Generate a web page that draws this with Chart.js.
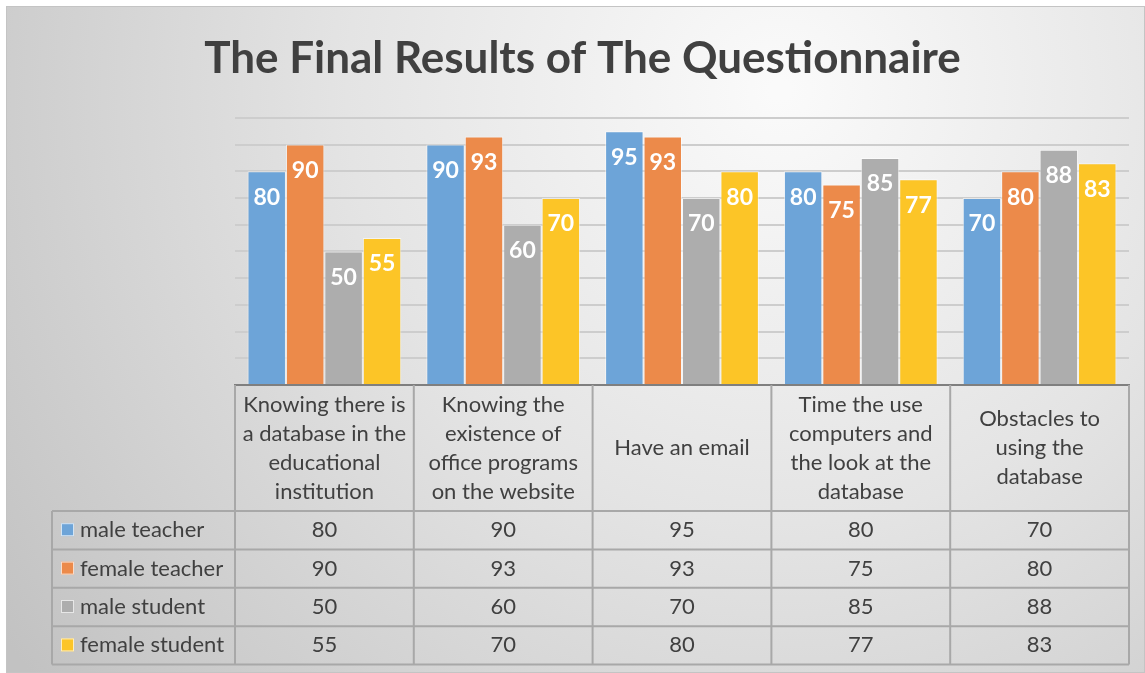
<!DOCTYPE html>
<html>
<head>
<meta charset="utf-8">
<title>The Final Results of The Questionnaire</title>
<script src="https://cdn.jsdelivr.net/npm/chart.js@4.4.1/dist/chart.umd.min.js"></script>
<style>
  html, body { margin: 0; padding: 0; background: #fff; }
</style>
</head>
<body>
<canvas id="myChart" width="1145" height="673"></canvas>
<script>
// categories (multi-line, as in the data table header)
var categories = [
    ['Knowing there is', 'a database in the', 'educational', 'institution'],
    ['Knowing the', 'existence of', 'office programs', 'on the website'],
    ['Have an email'],
    ['Time the use', 'computers and', 'the look at the', 'database'],
    ['Obstacles to', 'using the', 'database']
];
var seriesNames = ['male teacher', 'female teacher', 'male student', 'female student'];
var maleTeacher = [80, 90, 95, 80, 70];
var femaleTeacher = [90, 93, 93, 75, 80];
var maleStudent = [50, 60, 70, 85, 88];
var femaleStudent = [55, 70, 80, 77, 83];
var yTicks = [0, 10, 20, 30, 40, 50, 60, 70, 80, 90, 100];

var colors = ['#6DA4D8', '#EC8A4A', '#ADADAD', '#FCC527'];
var textColor = '#404040';
var fontFamily = 'Lato, "Open Sans", sans-serif';

// gray gradient frame behind everything
var backgroundPlugin = {
    id: 'background',
    beforeDraw: function (chart) {
        var ctx = chart.ctx;
        var w = chart.width, h = chart.height;
        ctx.save();
        ctx.fillStyle = '#ffffff';
        ctx.fillRect(0, 0, w, h);
        var g = ctx.createRadialGradient(780, 90, 10, 780, 90, 950);
        g.addColorStop(0, '#fafafa');
        g.addColorStop(0.45, '#e4e4e4');
        g.addColorStop(1, '#c2c2c2');
        ctx.fillStyle = g;
        ctx.fillRect(6, 6, w - 6, h - 6);
        ctx.strokeStyle = '#c4c4c4';
        ctx.lineWidth = 1;
        ctx.strokeRect(6.5, 6.5, w - 7, h - 7);
        ctx.restore();
    }
};

// white numbers inside the top of each bar
var barLabelsPlugin = {
    id: 'barLabels',
    afterDatasetsDraw: function (chart) {
        var ctx = chart.ctx;
        ctx.save();
        ctx.fillStyle = '#ffffff';
        ctx.font = 'bold 23px ' + fontFamily;
        ctx.textAlign = 'center';
        ctx.textBaseline = 'middle';
        chart.data.datasets.forEach(function (ds, i) {
            var meta = chart.getDatasetMeta(i);
            meta.data.forEach(function (bar, j) {
                ctx.fillText(ds.data[j], bar.x, bar.y + 26);
            });
        });
        ctx.restore();
    }
};

// Excel style data table under the axis
var dataTablePlugin = {
    id: 'dataTable',
    afterDraw: function (chart) {
        var ctx = chart.ctx;
        var area = chart.chartArea;
        var n = chart.data.labels.length;
        var colW = (area.right - area.left) / n;
        var headTop = area.bottom;
        var headBottom = area.bottom + 126;
        var rowH = 38.4;
        var legendLeft = 52;
        var tableBottom = headBottom + rowH * chart.data.datasets.length;

        ctx.save();
        ctx.strokeStyle = '#a8a8a8';
        ctx.lineWidth = 2;
        ctx.beginPath();
        for (var i = 0; i <= n; i++) {
            var x = area.left + i * colW;
            ctx.moveTo(x, headTop);
            ctx.lineTo(x, tableBottom);
        }
        ctx.moveTo(legendLeft, headBottom);
        ctx.lineTo(legendLeft, tableBottom);
        for (var r = 0; r <= chart.data.datasets.length; r++) {
            var y = headBottom + r * rowH;
            ctx.moveTo(legendLeft, y);
            ctx.lineTo(area.right, y);
        }
        ctx.stroke();

        ctx.fillStyle = textColor;
        ctx.font = '22px ' + fontFamily;
        ctx.textAlign = 'center';
        ctx.textBaseline = 'middle';
        var lineH = 29;
        chart.data.labels.forEach(function (lines, c) {
            var cx = area.left + (c + 0.5) * colW;
            var cy = (headTop + headBottom) / 2;
            var y0 = cy - (lines.length - 1) * lineH / 2;
            lines.forEach(function (t, k) {
                ctx.fillText(t, cx, y0 + k * lineH);
            });
        });

        chart.data.datasets.forEach(function (ds, r) {
            var cy = headBottom + (r + 0.5) * rowH;
            ctx.fillStyle = ds.backgroundColor;
            ctx.fillRect(legendLeft + 9, cy - 7, 13, 13);
            ctx.strokeStyle = 'rgba(255,255,255,0.7)';
            ctx.lineWidth = 1;
            ctx.strokeRect(legendLeft + 9.5, cy - 6.5, 12, 12);
            ctx.fillStyle = textColor;
            ctx.textAlign = 'left';
            ctx.fillText(ds.label, legendLeft + 28, cy);
            ctx.textAlign = 'center';
            ds.data.forEach(function (v, c) {
                ctx.fillText(v, area.left + (c + 0.5) * colW, cy);
            });
        });
        ctx.restore();
    }
};

var seriesValues = [maleTeacher, femaleTeacher, maleStudent, femaleStudent];

var chart = new Chart(document.getElementById('myChart').getContext('2d'), {
    type: 'bar',
    data: {
        labels: categories,
        datasets: seriesNames.map(function (name, i) {
            return {
                label: name,
                data: seriesValues[i],
                backgroundColor: colors[i],
                borderColor: 'rgba(255,255,255,0.55)',
                borderWidth: 1,
                categoryPercentage: 0.86,
                barPercentage: 1.0
            };
        })
    },
    options: {
        responsive: false,
        animation: false,
        layout: {
            padding: { top: 0, left: 36, right: 16, bottom: 288 }
        },
        plugins: {
            legend: { display: false },
            tooltip: { enabled: false },
            title: {
                display: true,
                text: 'The Final Results of The Questionnaire',
                color: textColor,
                font: { family: fontFamily, size: 44, weight: 'bold' },
                padding: { top: 32, bottom: 33 }
            }
        },
        scales: {
            x: {
                grid: { display: false },
                ticks: { display: false },
                border: { display: true, color: '#7f7f7f', width: 2 },
                afterFit: function (scale) { scale.height = 0; }
            },
            y: {
                min: 0,
                max: 100,
                afterBuildTicks: function (scale) {
                    scale.ticks = yTicks.map(function (v) { return { value: v }; });
                },
                ticks: { display: false },
                grid: { color: '#cdcdcd', lineWidth: 2, drawTicks: false },
                border: { display: false },
                afterFit: function (scale) { scale.width = 199; }
            }
        }
    },
    plugins: [backgroundPlugin, barLabelsPlugin, dataTablePlugin]
});
</script>
</body>
</html>
